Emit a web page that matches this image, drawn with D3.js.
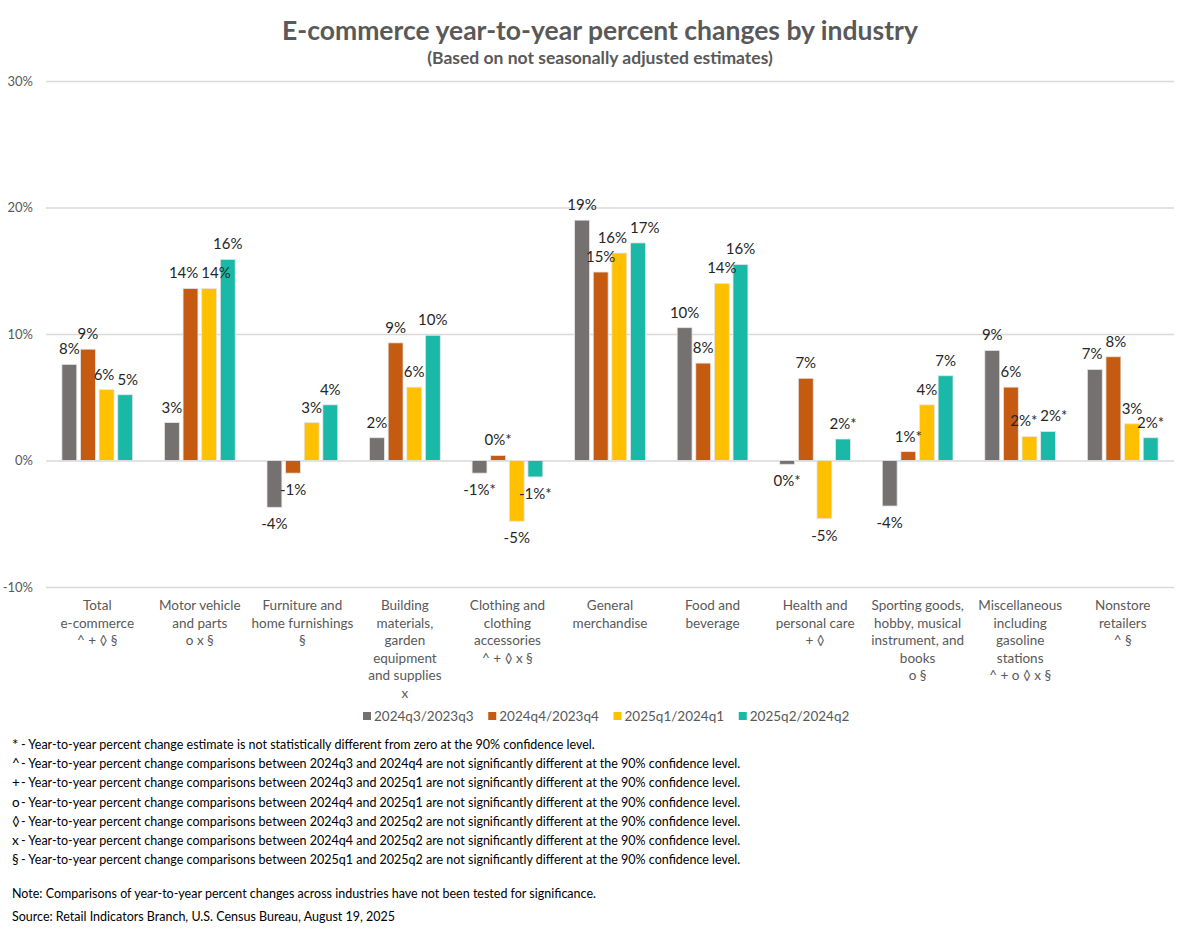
<!DOCTYPE html>
<html>
<head>
<meta charset="utf-8">
<script src="https://cdn.jsdelivr.net/npm/d3@7"></script>
<style>
  html, body { margin: 0; padding: 0; background: #fff; }
  svg { display: block; font-family: Lato, "Open Sans", sans-serif; }
</style>
</head>
<body>
<svg id="chart" width="1200" height="952"></svg>
<script>
// ---------- data ----------
const categories = [
  "Total e-commerce", "Motor vehicle and parts", "Furniture and home furnishings",
  "Building materials, garden equipment and supplies", "Clothing and clothing accessories",
  "General merchandise", "Food and beverage", "Health and personal care",
  "Sporting goods, hobby, musical instrument, and books",
  "Miscellaneous including gasoline stations", "Nonstore retailers"
];
const categoryLines = [
  ["Total", "e-commerce", "^ + \u25CA \u00A7"],
  ["Motor vehicle", "and parts", "o x \u00A7"],
  ["Furniture and", "home furnishings", "\u00A7"],
  ["Building", "materials,", "garden", "equipment", "and supplies", "x"],
  ["Clothing and", "clothing", "accessories", "^ + \u25CA x \u00A7"],
  ["General", "merchandise"],
  ["Food and", "beverage"],
  ["Health and", "personal care", "+ \u25CA"],
  ["Sporting goods,", "hobby, musical", "instrument, and", "books", "o \u00A7"],
  ["Miscellaneous", "including", "gasoline", "stations", "^ + o \u25CA x \u00A7"],
  ["Nonstore", "retailers", "^ \u00A7"]
];
const seriesNames = ["2024q3/2023q3", "2024q4/2023q4", "2025q1/2024q1", "2025q2/2024q2"];
const seriesColors = ["#767171", "#C55A11", "#FFC000", "#1AB8A7"];

const values2024q3 = [7.6, 3.0, -3.7, 1.8, -1.0, 19.0, 10.5, -0.3, -3.6, 8.7, 7.2];
const values2024q4 = [8.8, 13.6, -1.0, 9.3, 0.4, 14.9, 7.7, 6.5, 0.7, 5.8, 8.2];
const values2025q1 = [5.6, 13.6, 3.0, 5.8, -4.8, 16.4, 14.0, -4.6, 4.4, 1.9, 2.9];
const values2025q2 = [5.2, 15.9, 4.4, 9.9, -1.3, 17.2, 15.5, 1.7, 6.7, 2.3, 1.8];

const labels2024q3 = ["8%", "3%", "-4%", "2%", "-1%*", "19%", "10%", "0%*", "-4%", "9%", "7%"];
const labels2024q4 = ["9%", "14%", "-1%", "9%", "0%*", "15%", "8%", "7%", "1%*", "6%", "8%"];
const labels2025q1 = ["6%", "14%", "3%", "6%", "-5%", "16%", "14%", "-5%", "4%", "2%*", "3%"];
const labels2025q2 = ["5%", "16%", "4%", "10%", "-1%*", "17%", "16%", "2%*", "7%", "2%*", "2%*"];

const yTicks = [-10, 0, 10, 20, 30];

const title = "E-commerce year-to-year percent changes by industry";
const subtitle = "(Based on not seasonally adjusted estimates)";
const footnoteSymbols = ["*", "^", "+", "o", "\u25CA", "x", "\u00A7"];
const footnoteTexts = [
  " - Year-to-year percent change estimate is not statistically different from zero at the 90% confidence level.",
  " - Year-to-year percent change comparisons between 2024q3 and 2024q4 are not significantly different at the 90% confidence level.",
  " - Year-to-year percent change comparisons between 2024q3 and 2025q1 are not significantly different at the 90% confidence level.",
  " - Year-to-year percent change comparisons between 2024q4 and 2025q1 are not significantly different at the 90% confidence level.",
  " - Year-to-year percent change comparisons between 2024q3 and 2025q2 are not significantly different at the 90% confidence level.",
  " - Year-to-year percent change comparisons between 2024q4 and 2025q2 are not significantly different at the 90% confidence level.",
  " - Year-to-year percent change comparisons between 2025q1 and 2025q2 are not significantly different at the 90% confidence level."
];
const noteText = "Note: Comparisons of year-to-year percent changes across industries have not been tested for significance.";
const sourceText = "Source: Retail Indicators Branch, U.S. Census Bureau, August 19, 2025";

// ---------- build ----------
const seriesValues = [values2024q3, values2024q4, values2025q1, values2025q2];
const seriesLabels = [labels2024q3, labels2024q4, labels2025q1, labels2025q2];

const svg = d3.select("#chart");
const plotLeft = 46, plotRight = 1174, plotTop = 81, plotBottom = 587;
const textGray = "#595959";

const x0 = d3.scaleBand().domain(categories).range([plotLeft, plotRight])
  .paddingInner(0.31).paddingOuter(0.155);
const x1 = d3.scaleBand().domain(seriesNames).range([0, x0.bandwidth()])
  .paddingInner(0.2).paddingOuter(0);
const y = d3.scaleLinear().domain([-10, 30]).range([plotBottom, plotTop]);

// title
svg.append("text").attr("x", 600).attr("y", 40).attr("text-anchor", "middle")
  .attr("font-size", 26.5).attr("font-weight", 700).attr("fill", textGray).text(title);
svg.append("text").attr("x", 600).attr("y", 64).attr("text-anchor", "middle")
  .attr("font-size", 17.5).attr("font-weight", 700).attr("fill", textGray).text(subtitle);

// y axis with gridlines
const yAxis = d3.axisLeft(y).tickValues(yTicks).tickFormat(d => d + "%")
  .tickSize(-(plotRight - plotLeft)).tickPadding(13);
const gy = svg.append("g").attr("transform", `translate(${plotLeft},0)`).call(yAxis);
gy.select(".domain").remove();
gy.selectAll(".tick line").attr("stroke", "#d9d9d9").attr("stroke-width", 1.3);
gy.selectAll(".tick text").attr("fill", textGray).attr("font-size", 13)
  .attr("font-family", "Lato, sans-serif");

// bars
const rows = [];
categories.forEach((c, i) => {
  seriesNames.forEach((s, j) => {
    rows.push({ cat: c, ci: i, ser: s, idx: j, v: seriesValues[j][i], label: seriesLabels[j][i] });
  });
});

const barG = svg.append("g");
barG.selectAll("rect").data(rows).join("rect")
  .attr("x", d => x0(d.cat) + x1(d.ser))
  .attr("width", x1.bandwidth())
  .attr("y", d => y(Math.max(0, d.v)))
  .attr("height", d => Math.abs(y(d.v) - y(0)))
  .attr("fill", d => seriesColors[d.idx])
  .attr("stroke", "#e6e6e6").attr("stroke-width", 0.8);

// data labels (outside end), with simple overlap avoidance between neighbours
const labelSel = barG.selectAll("text").data(rows).join("text")
  .attr("text-anchor", "middle")
  .attr("font-size", 15).attr("fill", "#262626")
  .text(d => d.label);
labelSel.each(function(d) {
  d.w = this.getComputedTextLength();
  d.lx = x0(d.cat) + x1(d.ser) + x1.bandwidth() / 2;
  d.ly = d.v >= 0 ? y(d.v) - 10 : y(d.v) + 22;
});
categories.forEach((c, i) => {
  const grp = rows.filter(r => r.ci === i);
  for (let iter = 0; iter < 6; iter++) {
    for (let k = 0; k < grp.length - 1; k++) {
      const a = grp[k], b = grp[k + 1];
      if (Math.abs(a.ly - b.ly) < 13) {
        const overlap = (a.lx + a.w / 2 + 3) - (b.lx - b.w / 2);
        if (overlap > 0) { a.lx -= overlap / 2; b.lx += overlap / 2; }
      }
    }
  }
});
labelSel.attr("x", d => d.lx).attr("y", d => d.ly);

// category labels
const catG = svg.append("g");
categories.forEach((c, i) => {
  const cx = x0(c) + x0.bandwidth() / 2;
  const t = catG.append("text")
    .attr("x", cx).attr("y", 610)
    .attr("text-anchor", "middle").attr("font-size", 13.5).attr("fill", textGray);
  categoryLines[i].forEach((line, k) => {
    t.append("tspan").attr("x", cx).attr("dy", k === 0 ? 0 : 17.5).text(line);
  });
});

// legend
const legendX = d3.scaleBand().domain(seriesNames).range([363, 864]);
const lg = svg.append("g");
seriesNames.forEach((s, j) => {
  const gx = legendX(s);
  lg.append("rect").attr("x", gx).attr("y", 712).attr("width", 8).attr("height", 8)
    .attr("fill", seriesColors[j]);
  lg.append("text").attr("x", gx + 11).attr("y", 721).attr("font-size", 13.5)
    .attr("fill", textGray).text(s);
});

// footnotes
const fg = svg.append("g");
footnoteTexts.forEach((t, k) => {
  const yy = 749 + k * 19.2;
  fg.append("text").attr("x", 12).attr("y", yy + (k === 0 ? 1 : 0)).attr("font-size", k === 0 ? 15 : 13.5)
    .attr("fill", "#000").text(footnoteSymbols[k]);
  fg.append("text").attr("x", 21).attr("y", yy).attr("font-size", 12.5)
    .attr("fill", "#000").text(t);
});
fg.append("text").attr("x", 12).attr("y", 898).attr("font-size", 12.5).attr("fill", "#000").text(noteText);
fg.append("text").attr("x", 12).attr("y", 921).attr("font-size", 12.5).attr("fill", "#000").text(sourceText);
</script>
</body>
</html>
